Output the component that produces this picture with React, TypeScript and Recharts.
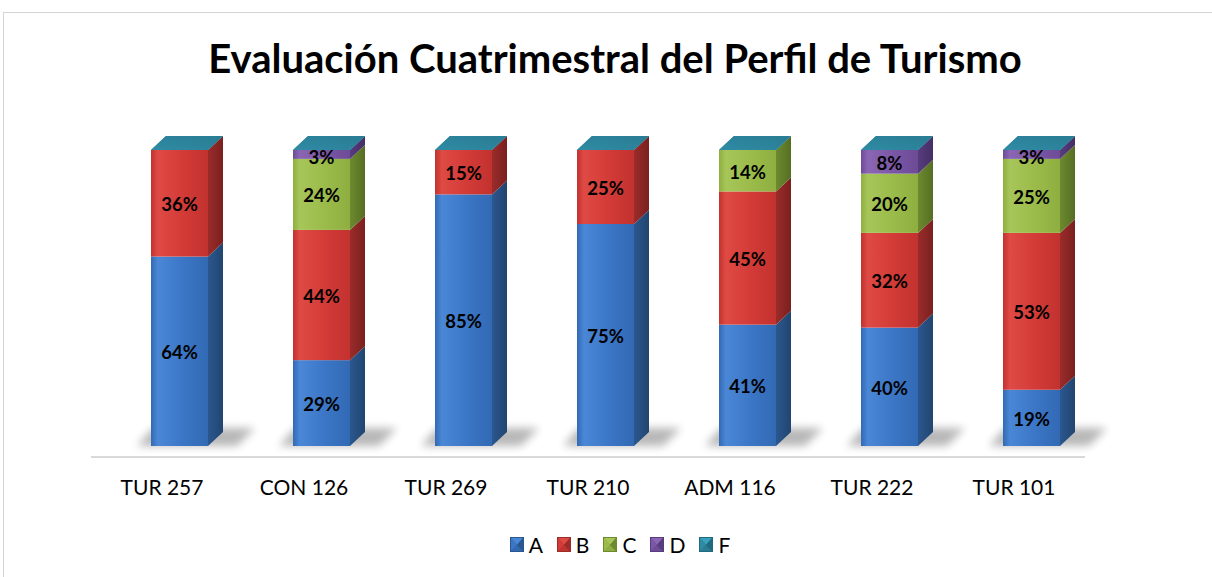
import React from 'react';
import { BarChart, Bar, XAxis, YAxis, Legend, LabelList } from 'recharts';

const categories = ['TUR 257', 'CON 126', 'TUR 269', 'TUR 210', 'ADM 116', 'TUR 222', 'TUR 101'];
const seriesA = [64, 29, 85, 75, 41, 40, 19];
const seriesB = [36, 44, 15, 25, 45, 32, 53];
const seriesC = [0, 24, 0, 0, 14, 20, 25];
const seriesD = [0, 3, 0, 0, 0, 8, 3];
const seriesF = [0, 0, 0, 0, 0, 0, 0];
const seriesNames = ['A', 'B', 'C', 'D', 'F'];
const title = 'Evaluación Cuatrimestral del Perfil de Turismo';

const data = categories.map((name, i) => ({
  name,
  A: seriesA[i],
  B: seriesB[i],
  C: seriesC[i],
  D: seriesD[i],
  F: seriesF[i],
}));

const COLORS: Record<string, { light: string; front: string; dark: string; side: string; sideDark: string }> = {
  A: { light: '#4a87d6', front: '#3b77c6', dark: '#3269b3', side: '#2b578f', sideDark: '#21456f' },
  B: { light: '#df4a45', front: '#d33b37', dark: '#c2322f', side: '#9a2c2a', sideDark: '#7a201f' },
  C: { light: '#a7c65a', front: '#9bbb4a', dark: '#8eae40', side: '#6d8a2f', sideDark: '#566e23' },
  D: { light: '#8a66b4', front: '#7b57a6', dark: '#6d4b96', side: '#573c7e', sideDark: '#452e66' },
  F: { light: '#3aa0bb', front: '#2f8ba4', dark: '#297c93', side: '#216a7e', sideDark: '#1a5566' },
};

const SHIFT = 17;
const DX = 15;
const DY = 14;
const FONT = 'Lato, "Open Sans", "Liberation Sans", sans-serif';
const TOP_KEY = seriesNames[seriesNames.length - 1];

const topFace = (fx: number, y: number, w: number) => (
  <polygon
    key="top"
    points={`${fx},${y} ${fx + DX},${y - DY} ${fx + w + DX},${y - DY} ${fx + w},${y}`}
    fill={`url(#top${TOP_KEY})`}
  />
);

const makeShape = (key: string) => (props: any) => {
  const { x, y, width, height, payload } = props;
  const fx = x + SHIFT;
  const w = width;
  const parts: React.ReactNode[] = [];
  if (key === 'A') {
    const base = y + height;
    parts.push(
      <polygon
        key="sh"
        points={`${fx - 14},${base} ${fx + 2},${base - DY - 4} ${fx + w + DX + 32},${base - DY - 4} ${fx + w + DX + 14},${base}`}
        fill="#000"
        opacity={0.28}
        filter="url(#shadowBlur)"
      />
    );
  }
  if (height > 0) {
    parts.push(
      <rect key="front" x={fx} y={y} width={w} height={height} fill={`url(#front${key})`} />
    );
    parts.push(
      <polygon
        key="side"
        points={`${fx + w},${y} ${fx + w + DX},${y - DY} ${fx + w + DX},${y + height - DY} ${fx + w},${y + height}`}
        fill={`url(#side${key})`}
      />
    );
    const idx = seriesNames.indexOf(key);
    const later = seriesNames.slice(idx + 1);
    const isTop = payload && later.every((k) => !payload[k]);
    if (isTop) parts.push(topFace(fx, y, w));
  } else if (key === TOP_KEY) {
    parts.push(topFace(fx, y, w));
  }
  return <g>{parts}</g>;
};

const renderLabel = (props: any) => {
  const vb = props.viewBox || props;
  const { x, y, width, height } = vb;
  const value = props.value;
  if (!value) return null;
  const extra = height < 12 ? 3 : 1;
  return (
    <text
      x={x + width / 2 + SHIFT}
      y={y + height / 2 + extra}
      textAnchor="middle"
      dominantBaseline="central"
      fontFamily={FONT}
      fontWeight={700}
      fontSize={18.5}
      fill="#000"
    >
      {value}%
    </text>
  );
};

const CustomTick = (props: any) => {
  const { x, y, payload } = props;
  return (
    <text x={x} y={y + 30} textAnchor="middle" fontFamily={FONT} fontSize={21} fill="#000">
      {payload.value}
    </text>
  );
};

const renderLegend = (props: any) => {
  const { payload } = props;
  return (
    <div style={{ display: 'flex', justifyContent: 'center', alignItems: 'center', gap: 14, fontFamily: FONT, fontSize: 21, color: '#000' }}>
      {(payload || []).map((entry: any) => {
        const k = entry.value as string;
        const c = COLORS[k];
        return (
          <div key={k} style={{ display: 'flex', alignItems: 'center' }}>
            <svg width={14} height={15} style={{ marginRight: 5 }}>
              <rect x={0} y={0} width={14} height={15} fill={c.side} />
              <polygon points="1,1 13,1 7,8" fill={c.light} />
              <polygon points="1,14 13,14 7,8" fill={c.dark} />
              <polygon points="1,1 1,14 7,8" fill={c.front} />
              <polygon points="13,1 13,14 7,8" fill={c.side} />
            </svg>
            <span>{k}</span>
          </div>
        );
      })}
    </div>
  );
};

export default function App() {
  return (
    <div style={{ position: 'absolute', left: 0, top: 0, width: 1212, height: 577, overflow: 'hidden', background: '#fff' }}>
      <div
        style={{
          position: 'absolute',
          left: 3,
          top: 12,
          width: 1400,
          height: 800,
          border: '1px solid #d4d4d4',
        }}
      />
      <div
        style={{
          position: 'absolute',
          left: 0,
          top: 33,
          width: 1230,
          textAlign: 'center',
          fontFamily: FONT,
          fontWeight: 700,
          fontSize: 40,
          color: '#000',
          lineHeight: '50px',
        }}
      >
        {title}
      </div>
      <div style={{ position: 'absolute', left: 0, top: 0 }}>
        <BarChart
          width={1212}
          height={577}
          data={data}
          margin={{ top: 150, right: 127, bottom: 80, left: 91 }}
          barSize={57}
        >
          <defs>
            <filter id="shadowBlur" x="-50%" y="-100%" width="200%" height="300%">
              <feGaussianBlur stdDeviation="4" />
            </filter>
            {seriesNames.map((k) => (
              <linearGradient key={`f${k}`} id={`front${k}`} x1="0" y1="0" x2="1" y2="0">
                <stop offset="0%" stopColor={COLORS[k].dark} />
                <stop offset="12%" stopColor={COLORS[k].light} />
                <stop offset="55%" stopColor={COLORS[k].front} />
                <stop offset="100%" stopColor={COLORS[k].dark} />
              </linearGradient>
            ))}
            {seriesNames.map((k) => (
              <linearGradient key={`s${k}`} id={`side${k}`} x1="0" y1="0" x2="1" y2="0">
                <stop offset="0%" stopColor={COLORS[k].side} />
                <stop offset="100%" stopColor={COLORS[k].sideDark} />
              </linearGradient>
            ))}
            {seriesNames.map((k) => (
              <linearGradient key={`t${k}`} id={`top${k}`} x1="0" y1="1" x2="1" y2="0">
                <stop offset="0%" stopColor={COLORS[k].front} />
                <stop offset="100%" stopColor={COLORS[k].dark} />
              </linearGradient>
            ))}
          </defs>
          <XAxis
            dataKey="name"
            height={40}
            axisLine={{ stroke: '#d9d9d9', strokeWidth: 2 }}
            tickLine={false}
            tick={<CustomTick />}
            interval={0}
          />
          <YAxis hide type="number" domain={[-3.72, 100]} />
          <Legend
            verticalAlign="middle"
            align="center"
            layout="horizontal"
            wrapperStyle={{ top: 532, left: 0, width: 1240 }}
            content={renderLegend}
          />
          {seriesNames.map((k) => (
            <Bar
              key={k}
              dataKey={k}
              name={k}
              stackId="s"
              fill={COLORS[k].front}
              isAnimationActive={false}
              shape={makeShape(k)}
            >
              <LabelList dataKey={k} content={renderLabel} />
            </Bar>
          ))}
        </BarChart>
      </div>
    </div>
  );
}
